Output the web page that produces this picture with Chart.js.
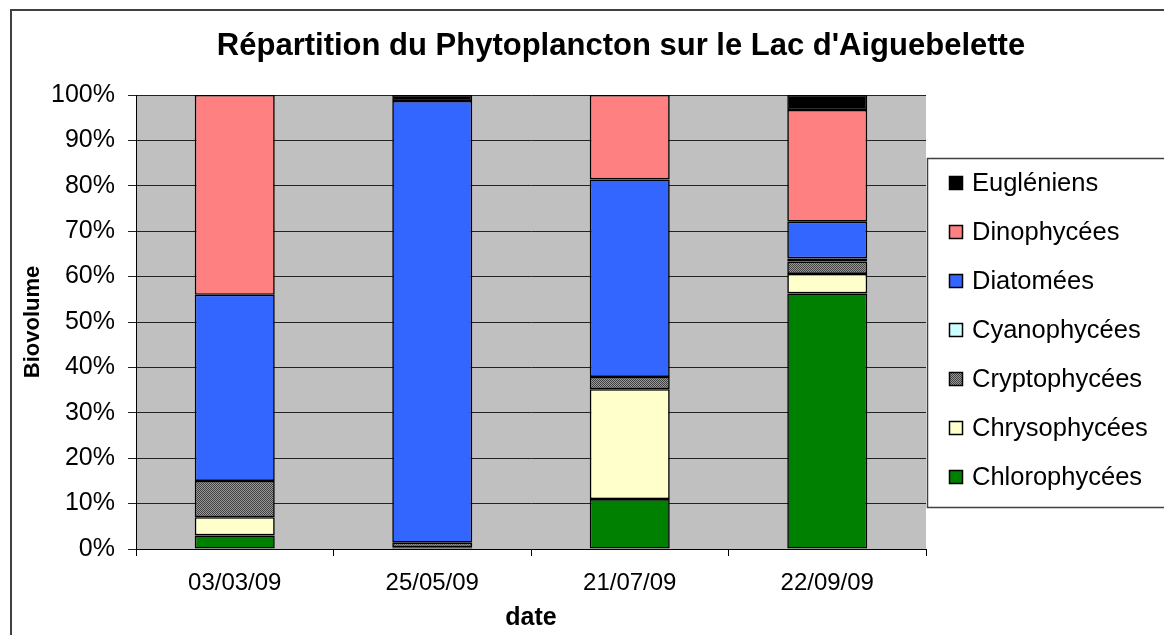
<!DOCTYPE html>
<html>
<head>
<meta charset="utf-8">
<script src="https://cdn.jsdelivr.net/npm/chart.js@4/dist/chart.umd.min.js"></script>
<style>
html,body{margin:0;padding:0;background:#fff;}
#wrap{width:1164px;height:635px;position:relative;}
</style>
</head>
<body>
<div id="wrap"><canvas id="c" width="1164" height="635"></canvas></div>
<script>
const categories = ['03/03/09', '25/05/09', '21/07/09', '22/09/09'];
const chlorophycees = [3, 0.4, 11, 56.3];
const chrysophycees = [4, 0, 24.2, 4.3];
const cryptophycees = [8, 1.0, 2.7, 2.7];
const cyanophycees = [0, 0, 0, 0.7];
const diatomees = [41, 97.3, 43.5, 8.1];
const dinophycees = [44, 0, 18.6, 24.6];
const eugleniens = [0, 1.3, 0, 3.3];
const yTicks = [0, 10, 20, 30, 40, 50, 60, 70, 80, 90, 100];
const chartTitle = "Répartition du Phytoplancton sur le Lac d'Aiguebelette";

const FONT = "'Liberation Sans', Arial, sans-serif";

function makePattern() {
  const p = document.createElement('canvas');
  p.width = 4; p.height = 4;
  const g = p.getContext('2d');
  g.fillStyle = '#9a9a9a';
  g.fillRect(0, 0, 4, 4);
  g.fillStyle = '#404040';
  for (let i = 0; i < 4; i++) {
    g.fillRect(i, i, 1, 1);
    g.fillRect((i + 2) % 4, i, 1, 1);
  }
  return document.getElementById('c').getContext('2d').createPattern(p, 'repeat');
}
const cryptoFill = makePattern();

const seriesDefs = [
  ['Chlorophycées', chlorophycees, '#008000'],
  ['Chrysophycées', chrysophycees, '#FFFFCC'],
  ['Cryptophycées', cryptophycees, cryptoFill],
  ['Cyanophycées', cyanophycees, '#CCFFFF'],
  ['Diatomées', diatomees, '#3366FF'],
  ['Dinophycées', dinophycees, '#FF8080'],
  ['Eugléniens', eugleniens, '#000000']
];

const datasets = seriesDefs.map(([label, data, color]) => ({
  label, data,
  backgroundColor: color,
  borderColor: '#000',
  borderWidth: 1.6,
  borderSkipped: false,
  barPercentage: 0.405,
  categoryPercentage: 1.0
}));

const bgPlugin = {
  id: 'bg',
  beforeDraw(chart) {
    const c = chart.ctx;
    c.save();
    c.fillStyle = '#fff';
    c.fillRect(0, 0, chart.width, chart.height);
    const a = chart.chartArea;
    c.fillStyle = '#C0C0C0';
    c.fillRect(a.left, a.top, a.right - a.left, a.bottom - a.top);
    c.strokeStyle = '#404040';
    c.lineWidth = 2;
    c.beginPath();
    c.moveTo(11, 640);
    c.lineTo(11, 10);
    c.lineTo(1170, 10);
    c.stroke();
    // title
    c.fillStyle = '#000';
    c.font = 'bold 31px ' + FONT;
    c.textAlign = 'center';
    c.textBaseline = 'middle';
    c.fillText(chartTitle, 621, 46);
    c.restore();
  },
  afterDraw(chart) {
    const c = chart.ctx;
    c.save();
    // legend box
    c.strokeStyle = '#404040';
    c.lineWidth = 1.5;
    c.strokeRect(927.5, 158.5, 250, 349);
    const items = chart.data.datasets.slice().reverse();
    c.font = '25.5px ' + FONT;
    c.textBaseline = 'middle';
    c.textAlign = 'left';
    items.forEach((ds, i) => {
      const y = 183 + i * 49;
      c.fillStyle = ds.backgroundColor;
      c.fillRect(949, y - 7, 14, 14);
      c.strokeStyle = '#000';
      c.lineWidth = 1.5;
      c.strokeRect(949.5, y - 6.5, 13, 13);
      c.fillStyle = '#000';
      c.fillText(ds.label, 972, y + 1);
    });
    c.restore();
  }
};

new Chart(document.getElementById('c'), {
  type: 'bar',
  data: { labels: categories, datasets },
  options: {
    responsive: false,
    animation: false,
    layout: { padding: { left: 0, right: 238, top: 95, bottom: 0 } },
    plugins: {
      legend: { display: false },
      tooltip: { enabled: false },
      title: { display: false }
    },
    scales: {
      x: {
        stacked: true,
        offset: true,
        afterFit(s) { s.height = 86; },
        grid: { display: true, drawOnChartArea: false, offset: true, tickLength: 7, color: '#000', lineWidth: 1 },
        border: { display: true, color: '#000', width: 1 },
        ticks: { color: '#000', font: { family: FONT, size: 24 }, padding: 13, maxRotation: 0 },
        title: { display: true, text: 'date', color: '#000', font: { family: FONT, size: 25, weight: 'bold', lineHeight: 1.2 }, padding: { top: 0, bottom: 2 } }
      },
      y: {
        stacked: true,
        min: 0, max: 100,
        afterFit(s) { s.width = 136; },
        afterBuildTicks(s) { s.ticks = yTicks.map(v => ({ value: v })); },
        grid: { color: '#222', lineWidth: 1, tickLength: 8, drawTicks: true },
        border: { display: true, color: '#000', width: 1 },
        ticks: { color: '#000', font: { family: FONT, size: 25 }, padding: 13, callback: v => v + '%' },
        title: { display: true, text: 'Biovolume', color: '#000', font: { family: FONT, size: 22, weight: 'bold', lineHeight: 1.2 }, padding: { top: 20, bottom: 0 } }
      }
    }
  },
  plugins: [bgPlugin]
});
</script>
</body>
</html>
